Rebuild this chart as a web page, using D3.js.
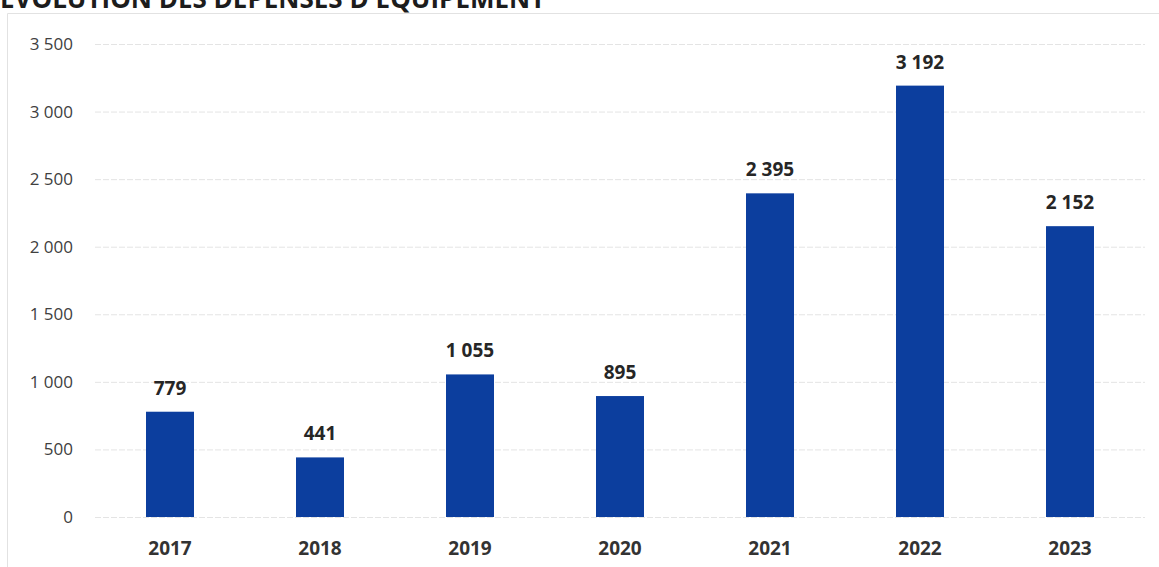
<!DOCTYPE html>
<html>
<head>
<meta charset="utf-8">
<script src="https://cdn.jsdelivr.net/npm/d3@7"></script>
<style>
  body { margin: 0; background: #fff; }
  svg { display: block; font-family: "Open Sans", sans-serif; }
  .grid line { stroke: #e4e4e4; stroke-dasharray: 6 2; }
  .grid .domain { display: none; }
</style>
</head>
<body>
<svg id="chart" width="1159" height="567"></svg>
<script>
// data
const title = "ÉVOLUTION DES DÉPENSES D'ÉQUIPEMENT";
const years = ["2017", "2018", "2019", "2020", "2021", "2022", "2023"];
const spending = [779, 441, 1055, 895, 2395, 3192, 2152];
const yTicks = [0, 500, 1000, 1500, 2000, 2500, 3000, 3500];

const svg = d3.select("#chart");
const W = 1159, H = 567;
const margin = { top: 44, right: 14, bottom: 50, left: 95 };

const fmt = v => d3.format(",")(v).replace(/,/g, " ");

// faint frame
svg.append("path")
  .attr("d", `M7.5,${H} V13.5 H${W}`)
  .attr("fill", "none")
  .attr("stroke", "#e2e2e2");

// title is cropped at the top edge, as in the source picture
svg.append("text")
  .attr("x", 0).attr("y", 8)
  .attr("font-size", 26).attr("font-weight", 700)
  .attr("fill", "#1c1c1c")
  .text(title);

const x = d3.scaleBand()
  .domain(years)
  .range([margin.left, W - margin.right])
  .paddingInner(0.68)
  .paddingOuter(0.34);

const y = d3.scaleLinear()
  .domain([0, 3500])
  .range([H - margin.bottom, margin.top]);

// gridlines
svg.append("g")
  .attr("class", "grid")
  .attr("transform", `translate(${margin.left},0)`)
  .call(d3.axisLeft(y).tickValues(yTicks).tickSize(-(W - margin.left - margin.right)).tickFormat(""));

// y labels
svg.append("g")
  .selectAll("text")
  .data(yTicks)
  .join("text")
  .attr("x", 73)
  .attr("y", d => y(d))
  .attr("dy", "0.35em")
  .attr("text-anchor", "end")
  .attr("font-size", 17)
  .attr("fill", "#404040")
  .text(fmt);

// bars
svg.append("g")
  .selectAll("rect")
  .data(spending)
  .join("rect")
  .attr("x", (d, i) => x(years[i]))
  .attr("y", d => y(d))
  .attr("width", x.bandwidth())
  .attr("height", d => y(0) - y(d))
  .attr("fill", "#0c3e9e");

// value labels
svg.append("g")
  .selectAll("text")
  .data(spending)
  .join("text")
  .attr("x", (d, i) => x(years[i]) + x.bandwidth() / 2)
  .attr("y", d => y(d) - 17)
  .attr("text-anchor", "middle")
  .attr("font-size", 19).attr("font-weight", 700)
  .attr("fill", "#262626")
  .text(fmt);

// year labels
svg.append("g")
  .selectAll("text")
  .data(years)
  .join("text")
  .attr("x", d => x(d) + x.bandwidth() / 2)
  .attr("y", 555)
  .attr("text-anchor", "middle")
  .attr("font-size", 19).attr("font-weight", 700)
  .attr("fill", "#333")
  .text(d => d);
</script>
</body>
</html>
